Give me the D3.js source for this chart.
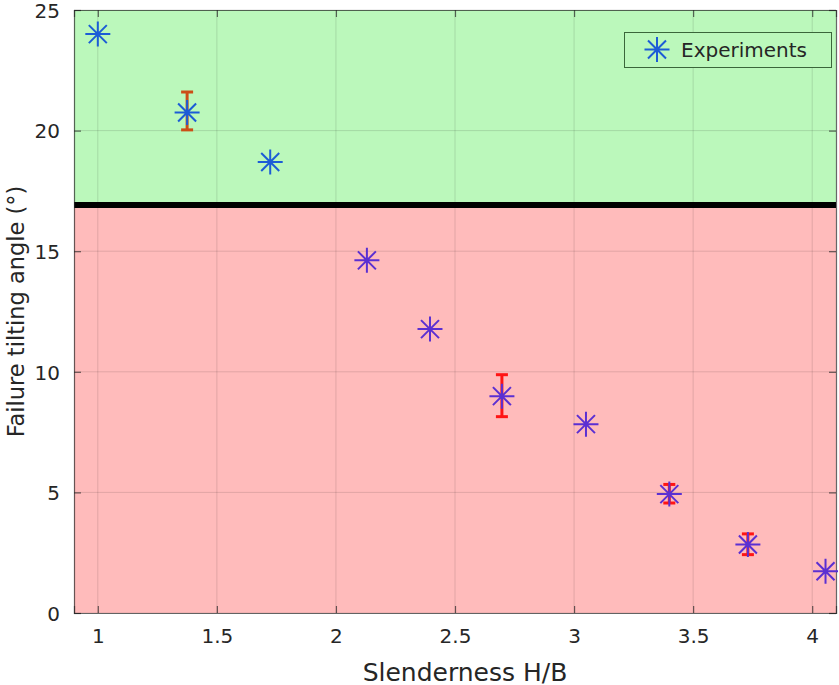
<!DOCTYPE html>
<html><head><meta charset="utf-8">
<script src="https://cdn.jsdelivr.net/npm/d3@7"></script>
<style>body{margin:0;background:#fff}svg{display:block}text{font-family:"DejaVu Sans",sans-serif;fill:#262626}</style>
</head><body>
<script>
// data
const slenderness = [1.0, 1.375, 1.724, 2.13, 2.395, 2.697, 3.05, 3.40, 3.73, 4.056];
const failureAngle = [24.0, 20.75, 18.7, 14.62, 11.77, 8.99, 7.83, 4.93, 2.84, 1.73];
const errLow  = [null, 20.03, null, null, null, 8.14, null, 4.56, 2.42, null];
const errHigh = [null, 21.6, null, null, null, 9.88, null, 5.33, 3.28, null];
const threshold = 16.92;
const xTicks = [1, 1.5, 2, 2.5, 3, 3.5, 4];
const yTicks = [0, 5, 10, 15, 20, 25];
const xDomain = [0.9, 4.1];
const yDomain = [0, 25];
const legendLabel = "Experiments";
const xLabel = "Slenderness H/B";
const yLabel = "Failure tilting angle (°)";

const W = 839, H = 685;
const m = {l: 74, r: 3, t: 10, b: 72};
const svg = d3.select("body").append("svg").attr("width", W).attr("height", H);
const x = d3.scaleLinear().domain(xDomain).range([m.l, W - m.r]);
const y = d3.scaleLinear().domain(yDomain).range([H - m.b, m.t]);

const green = "#bbf8bb", red = "#ffbbbb";
// background regions
svg.append("rect").attr("x", x(xDomain[0])).attr("y", y(yDomain[1]))
  .attr("width", x(xDomain[1]) - x(xDomain[0])).attr("height", y(threshold) - y(yDomain[1])).attr("fill", green);
svg.append("rect").attr("x", x(xDomain[0])).attr("y", y(threshold))
  .attr("width", x(xDomain[1]) - x(xDomain[0])).attr("height", y(0) - y(threshold)).attr("fill", red);

// grid
const g = svg.append("g");
g.selectAll(".vx").data(xTicks).join("line")
  .attr("x1", d => x(d)).attr("x2", d => x(d)).attr("y1", y(yDomain[0])).attr("y2", y(yDomain[1]))
  .attr("stroke", "rgba(0,0,0,0.12)").attr("stroke-width", 1);
g.selectAll(".hy").data(yTicks).join("line")
  .attr("y1", d => y(d)).attr("y2", d => y(d)).attr("x1", x(xDomain[0])).attr("x2", x(xDomain[1]))
  .attr("stroke", "rgba(0,0,0,0.12)").attr("stroke-width", 1);

// threshold line
svg.append("line").attr("x1", x(xDomain[0])).attr("x2", x(xDomain[1]))
  .attr("y1", y(threshold)).attr("y2", y(threshold)).attr("stroke", "#000").attr("stroke-width", 6);

// axes
const axCol = "rgba(38,38,38,0.7)";
const tickLen = 7;
const xb = svg.append("g").attr("transform", `translate(0,${y(0)})`)
  .call(d3.axisBottom(x).tickValues(xTicks).tickSize(-tickLen).tickPadding(16).tickFormat(d3.format("")));
const xt = svg.append("g").attr("transform", `translate(0,${y(yDomain[1])})`)
  .call(d3.axisTop(x).tickValues(xTicks).tickSize(-tickLen).tickFormat(""));
const yl = svg.append("g").attr("transform", `translate(${x(xDomain[0])},0)`)
  .call(d3.axisLeft(y).tickValues(yTicks).tickSize(-tickLen).tickPadding(14));
const yr = svg.append("g").attr("transform", `translate(${x(xDomain[1])},0)`)
  .call(d3.axisRight(y).tickValues(yTicks).tickSize(-tickLen).tickFormat(""));
[xb, xt, yl, yr].forEach(a => {
  a.selectAll("path").attr("stroke", axCol).attr("stroke-width", 1.2);
  a.selectAll("line").attr("stroke", axCol).attr("stroke-width", 1.2);
  a.selectAll("text").attr("font-size", 20).attr("fill", "#262626").attr("font-family", "DejaVu Sans");
});
yl.selectAll("text").attr("dy", "0.36em");

// error bars
const errIdx = d3.range(slenderness.length).filter(i => errLow[i] != null);
const ecol = i => failureAngle[i] > threshold ? "#cc4e16" : "#ff1414";
const eb = svg.append("g");
errIdx.forEach(i => {
  const cx = x(slenderness[i]);
  eb.append("line").attr("x1", cx).attr("x2", cx).attr("y1", y(errLow[i])).attr("y2", y(errHigh[i]))
    .attr("stroke", ecol(i)).attr("stroke-width", 3);
  [errLow[i], errHigh[i]].forEach(v => eb.append("line").attr("x1", cx - 6).attr("x2", cx + 6)
    .attr("y1", y(v)).attr("y2", y(v)).attr("stroke", ecol(i)).attr("stroke-width", 3));
});

// asterisk markers
function asterisk(sel, cx, cy, col, r) {
  const d = r * 0.72;
  const p = `M${cx - r},${cy}H${cx + r}M${cx},${cy - r}V${cy + r}M${cx - d},${cy - d}L${cx + d},${cy + d}M${cx - d},${cy + d}L${cx + d},${cy - d}`;
  sel.append("path").attr("d", p).attr("stroke", col).attr("stroke-width", 2).attr("fill", "none");
}
const mk = svg.append("g");
slenderness.forEach((s, i) => {
  asterisk(mk, x(s), y(failureAngle[i]), failureAngle[i] > threshold ? "#1c5cd6" : "#5b2fd2", 12.5);
});

// legend
const lg = svg.append("g");
lg.append("rect").attr("x", 624.5).attr("y", 32.5).attr("width", 207).attr("height", 35)
  .attr("fill", green).attr("stroke", "#3a663a").attr("stroke-width", 1);
asterisk(lg, 657, 49.5, "#1c5cd6", 12.5);
lg.append("text").attr("x", 681).attr("y", 50).attr("dominant-baseline", "central")
  .attr("font-size", 20).text(legendLabel);

// axis labels
svg.append("text").attr("x", (x(xDomain[0]) + x(xDomain[1])) / 2 + 10).attr("y", 672).attr("text-anchor", "middle")
  .attr("dominant-baseline", "central").attr("font-size", 25).text(xLabel);
svg.append("text").attr("transform", `translate(16,${(y(0) + y(25)) / 2}) rotate(-90)`)
  .attr("text-anchor", "middle").attr("dominant-baseline", "central").attr("font-size", 22.5).text(yLabel);
</script>
</body></html>
